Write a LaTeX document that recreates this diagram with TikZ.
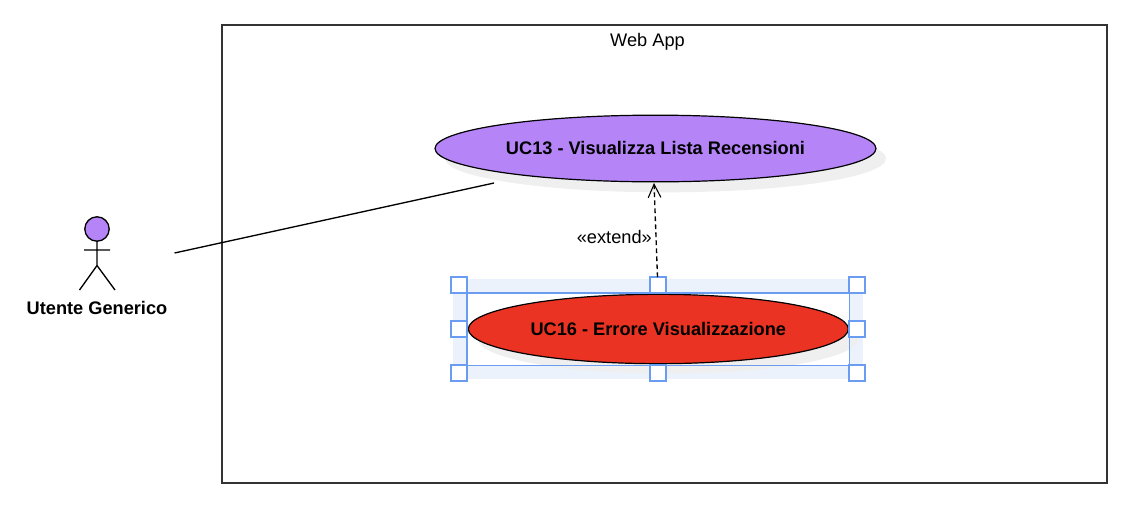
\documentclass[tikz,border=0pt]{standalone}
\usepackage{fontspec}
\setmainfont{Liberation Sans}
\usetikzlibrary{arrows.meta,shapes.geometric}
\definecolor{purp}{HTML}{B584F7}
\definecolor{redf}{HTML}{EB3323}
\definecolor{sel}{HTML}{6A9CF2}
\definecolor{selbg}{HTML}{EBF2FC}
\definecolor{shad}{HTML}{EFEFEF}
\tikzset{x=0.75pt,y=-0.75pt,
 every node/.style={font=\fontsize{13.65pt}{16pt}\selectfont,text=black},
 uc/.style={ellipse,draw=black,line width=.9pt,inner sep=0pt},
 handle/.style={draw=sel,fill=white,line width=1.5pt,minimum size=12pt,inner sep=0pt,rectangle},
 sline/.style={draw=sel,line width=1pt},
 actor/.style={draw=black,line width=1pt}}
\begin{document}
\begin{tikzpicture}
\useasboundingbox (0,0) rectangle (1134,526);
\node[draw=black!80,line width=1.2pt,minimum width=663.75pt,minimum height=343.5pt,inner sep=0pt] (sys) at (664.5,254) {};
\node (title) at (647.5,41.3) {Web App};
% shadows
\fill[shad] (665.5,158.5) ellipse (220.5 and 33.8);
\fill[selbg] (453,279) rectangle (863,379);
\fill[white] (467,293) rectangle (849.5,365.5);
\fill[shad] (668,339) ellipse (190 and 34.5);
\node[uc,fill=purp,minimum width=330.75pt,minimum height=50pt] (uc13) at (655.5,148.5) {\textbf{UC13 - Visualizza Lista Recensioni}};
\node[uc,fill=redf,minimum width=285pt,minimum height=52pt] (uc16) at (658.3,329) {\textbf{UC16 - Errore Visualizzazione}};
% selection
\draw[sline] (467,293) rectangle (849.5,365.5);
\draw[sline] (459,293) -- (857,293) (459,365.5) -- (857,365.5);
\draw[sline] (467,285) -- (467,373) (849.5,285) -- (849.5,373);
\foreach \n/\x/\y in {a/459/285,b/658/285,c/857/285,d/459/329,e/857/329,f/459/373,g/658/373,h/857/373}
  \node[handle] (h\n) at (\x,\y) {};
% actor
\draw[actor,fill=purp] (97,229) circle (12.2);
\coordinate (neck) at (97,241);
\coordinate (hip) at (97,265.5);
\coordinate (arml) at (84,250);
\coordinate (armr) at (110,250);
\coordinate (legl) at (79.5,290);
\coordinate (legr) at (115,290);
\draw[actor] (neck) -- (hip) (arml) -- (armr) (legl) -- (hip) -- (legr);
\node (actorlabel) at (97,308) {\textbf{Utente Generico}};
\coordinate (as) at (174.5,253);
\coordinate (ae) at (494,183);
\draw[line width=1pt] (as) -- (ae);
\coordinate (es) at (657.5,277);
\coordinate (ee) at (654,183);
\draw[line width=1pt,dash pattern=on 3.5pt off 2.5pt,-{Straight Barb[length=10pt,width=9.5pt,line width=.8pt]}] (es) -- (ee);
\node (ext) at (614.3,237) {«extend»};
\end{tikzpicture}
\end{document}
